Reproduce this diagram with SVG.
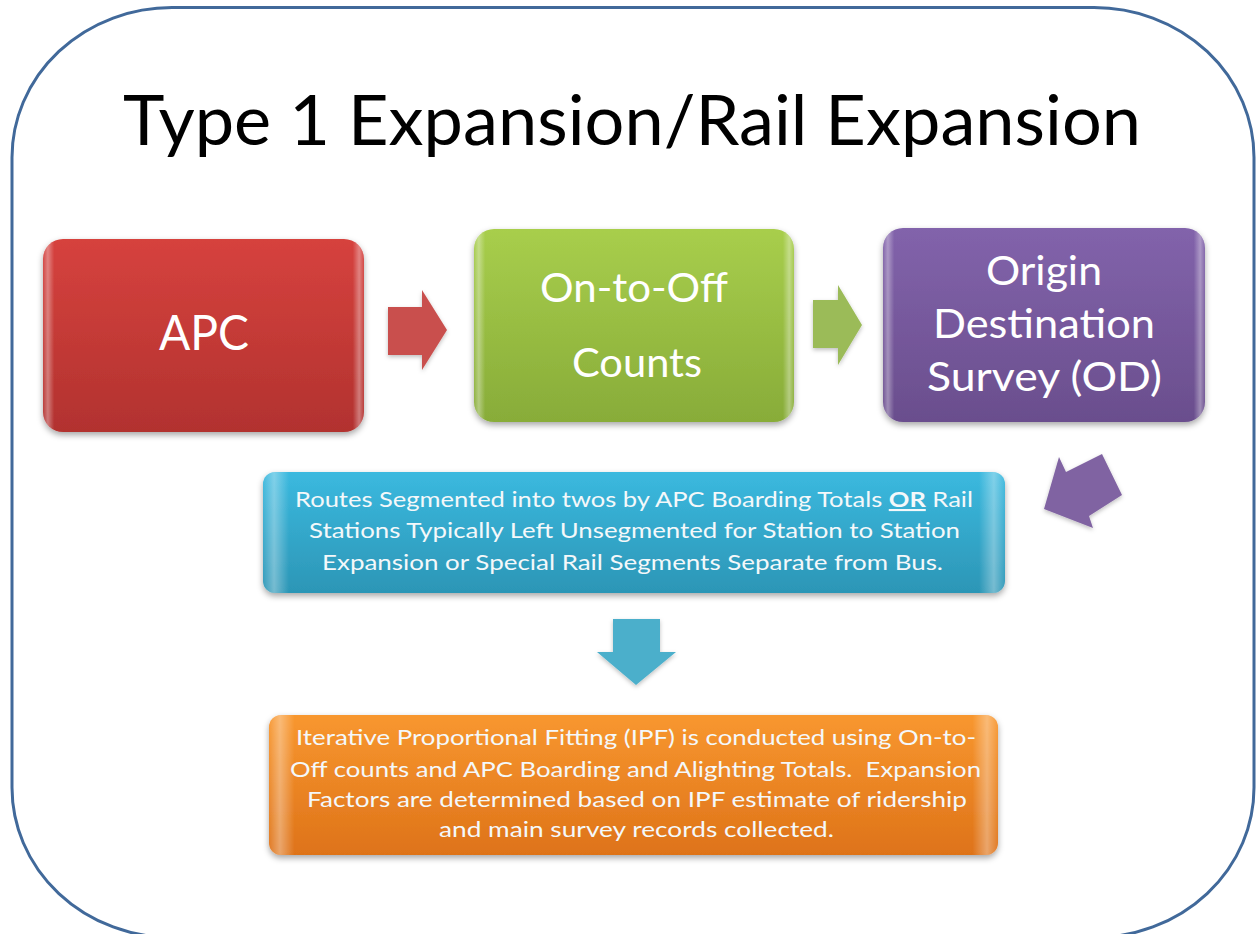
<svg xmlns="http://www.w3.org/2000/svg" width="1257" height="934" viewBox="0 0 1257 934">
<style>
  .frame { fill: #ffffff; stroke: #41699A; stroke-width: 3; }
  .title { font-family: Lato, "Open Sans", "Liberation Sans", sans-serif; font-size: 69px; fill: #000000; }
  .big { font-family: Lato, "Open Sans", "Liberation Sans", sans-serif; fill: #FFFFFF; text-anchor: middle; }
  .small { font-family: Lato, "Open Sans", "Liberation Sans", sans-serif; fill: #F4F8FA; text-anchor: middle; font-size: 21px; }
  .gloss { fill: url(#sideGloss); }
</style>
<defs>
  <filter id="shadow" x="-10%" y="-10%" width="120%" height="130%">
    <feDropShadow dx="0" dy="3" stdDeviation="3" flood-color="#000000" flood-opacity="0.35"/>
  </filter>
  <filter id="ashadow" x="-20%" y="-20%" width="140%" height="150%">
    <feDropShadow dx="0" dy="2" stdDeviation="2" flood-color="#000000" flood-opacity="0.25"/>
  </filter>
  <linearGradient id="gRed" x1="0" y1="0" x2="0" y2="1">
    <stop offset="0" stop-color="#D6423E"/>
    <stop offset="1" stop-color="#B2322F"/>
  </linearGradient>
  <linearGradient id="gGreen" x1="0" y1="0" x2="0" y2="1">
    <stop offset="0" stop-color="#A8CE4C"/>
    <stop offset="1" stop-color="#88AC39"/>
  </linearGradient>
  <linearGradient id="gPurple" x1="0" y1="0" x2="0" y2="1">
    <stop offset="0" stop-color="#8263AB"/>
    <stop offset="1" stop-color="#6A4E8D"/>
  </linearGradient>
  <linearGradient id="gBlue" x1="0" y1="0" x2="0" y2="1">
    <stop offset="0" stop-color="#3BB9DF"/>
    <stop offset="1" stop-color="#2C96B6"/>
  </linearGradient>
  <linearGradient id="gOrange" x1="0" y1="0" x2="0" y2="1">
    <stop offset="0" stop-color="#F8972F"/>
    <stop offset="1" stop-color="#DE7319"/>
  </linearGradient>
  <linearGradient id="sideGloss" x1="0" y1="0" x2="1" y2="0">
    <stop offset="0" stop-color="#FFFFFF" stop-opacity="0.05"/>
    <stop offset="0.015" stop-color="#FFFFFF" stop-opacity="0.35"/>
    <stop offset="0.035" stop-color="#FFFFFF" stop-opacity="0"/>
    <stop offset="0.965" stop-color="#FFFFFF" stop-opacity="0"/>
    <stop offset="0.985" stop-color="#FFFFFF" stop-opacity="0.35"/>
    <stop offset="1" stop-color="#FFFFFF" stop-opacity="0.05"/>
  </linearGradient>
</defs>

<rect class="frame" x="12" y="7.5" width="1242" height="930" rx="160" ry="150"/>

<text id="title" class="title" x="123" y="145" textLength="1018" lengthAdjust="spacingAndGlyphs">Type 1 Expansion/Rail Expansion</text>

<g id="connectors">
  <polygon id="arrow-apc-onoff" filter="url(#ashadow)" fill="#C9504E" points="388,307 422,307 422,290 447,330 422,370 422,355 388,355"/>
  <polygon id="arrow-onoff-od" filter="url(#ashadow)" fill="#9BBB59" points="813,300 838,300 838,285 862,325 838,365 838,348 813,348"/>
  <polygon id="arrow-od-routes" filter="url(#ashadow)" fill="#8064A2" points="1044,509 1059,457 1066,472 1102,454 1122,495 1089,516 1093,528"/>
  <polygon id="arrow-routes-ipf" filter="url(#ashadow)" fill="#4BAFCB" points="613,619 660,619 660,652 676,652 636,685 597,652 613,652"/>
</g>

<g id="node-apc">
  <rect x="43" y="239" width="321" height="193" rx="20" fill="url(#gRed)" filter="url(#shadow)"/>
  <rect class="gloss" x="43" y="239" width="321" height="193" rx="20"/>
  <text class="big" x="204" y="350" font-size="48" textLength="90" lengthAdjust="spacingAndGlyphs">APC</text>
</g>

<g id="node-onoff">
  <rect x="474" y="229" width="320" height="193" rx="20" fill="url(#gGreen)" filter="url(#shadow)"/>
  <rect class="gloss" x="474" y="229" width="320" height="193" rx="20"/>
  <text class="big" x="634" y="302" font-size="41" textLength="188" lengthAdjust="spacingAndGlyphs">On-to-Off</text>
  <text class="big" x="637" y="377" font-size="41" textLength="130" lengthAdjust="spacingAndGlyphs">Counts</text>
</g>

<g id="node-od">
  <rect x="883" y="228" width="322" height="194" rx="20" fill="url(#gPurple)" filter="url(#shadow)"/>
  <rect class="gloss" x="883" y="228" width="322" height="194" rx="20"/>
  <text class="big" x="1044" y="285" font-size="41" textLength="116" lengthAdjust="spacingAndGlyphs">Origin</text>
  <text class="big" x="1044" y="338" font-size="41" textLength="222" lengthAdjust="spacingAndGlyphs">Destination</text>
  <text class="big" x="1044.5" y="391" font-size="41" textLength="235" lengthAdjust="spacingAndGlyphs">Survey (OD)</text>
</g>

<g id="node-routes">
  <rect x="263" y="472" width="742" height="121" rx="12" fill="url(#gBlue)" filter="url(#shadow)"/>
  <rect class="gloss" x="263" y="472" width="742" height="121" rx="12"/>
  <text class="small" x="634" y="507" textLength="678" lengthAdjust="spacingAndGlyphs">Routes Segmented into twos by APC Boarding Totals <tspan font-weight="bold" text-decoration="underline">OR</tspan> Rail</text>
  <text class="small" x="634.5" y="538" textLength="651" lengthAdjust="spacingAndGlyphs">Stations Typically Left Unsegmented for Station to Station</text>
  <text class="small" x="632.5" y="570" textLength="621" lengthAdjust="spacingAndGlyphs">Expansion or Special Rail Segments Separate from Bus.</text>
</g>

<g id="node-ipf">
  <rect x="269" y="715" width="729" height="140" rx="12" fill="url(#gOrange)" filter="url(#shadow)"/>
  <rect class="gloss" x="269" y="715" width="729" height="140" rx="12"/>
  <text class="small" x="636" y="745" font-size="23" textLength="680" lengthAdjust="spacingAndGlyphs">Iterative Proportional Fitting (IPF) is conducted using On-to-</text>
  <text class="small" x="635.5" y="777" font-size="23" textLength="691" lengthAdjust="spacingAndGlyphs">Off counts and APC Boarding and Alighting Totals.&#160; Expansion</text>
  <text class="small" x="637" y="807" font-size="23" textLength="660" lengthAdjust="spacingAndGlyphs">Factors are determined based on IPF estimate of ridership</text>
  <text class="small" x="636.5" y="837" font-size="23" textLength="395" lengthAdjust="spacingAndGlyphs">and main survey records collected.</text>
</g>
</svg>
